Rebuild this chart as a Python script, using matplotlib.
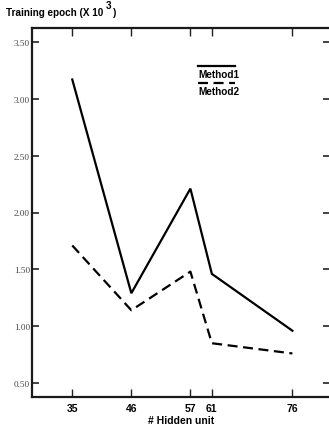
import matplotlib
matplotlib.use("Agg")
import matplotlib.pyplot as plt
from matplotlib.lines import Line2D

hidden_units = [35, 46, 57, 61, 76]
method1 = [3.17, 1.29, 2.21, 1.46, 0.96]
method2 = [1.71, 1.14, 1.48, 0.85, 0.76]
y_ticks = [0.50, 1.00, 1.50, 2.00, 2.50, 3.00, 3.50]
series_names = ["Method1", "Method2"]

sans = ["Liberation Sans Narrow", "Liberation Sans", "DejaVu Sans"]
serif = ["Liberation Serif", "DejaVu Serif"]

fig = plt.figure(figsize=(3.29, 4.31), dpi=100)
ax = fig.add_axes([32 / 329, 33 / 431, 298 / 329, 369 / 431])

ax.plot(hidden_units, method1, color="black", lw=1.6, solid_joinstyle="miter")
ax.plot(hidden_units, method2, color="black", lw=1.6, dashes=(4.5, 2.5))

ax.set_xlim(27.5, 83.0)
ax.set_ylim(0.377, 3.623)

ax.set_xticks(hidden_units)
ax.set_xticklabels([str(v) for v in hidden_units], fontfamily=sans,
                   fontweight="bold", fontsize=7.5)
ax.set_yticks(y_ticks)
ax.set_yticklabels([f"{v:.2f}" for v in y_ticks], fontfamily=serif,
                   fontsize=6.6, color="#444444")

ax.tick_params(axis="x", which="both", direction="in", length=6, width=1.0,
               top=True, bottom=True, pad=4, color="#222222")
ax.tick_params(axis="y", which="both", direction="in", length=5, width=1.2,
               left=True, right=True, pad=1.5, color="#222222")

for side in ["left", "bottom", "top"]:
    ax.spines[side].set_linewidth(1.6)
    ax.spines[side].set_color("#1a1a1a")
ax.spines["right"].set_visible(False)

ax.set_xlabel("# Hidden unit", fontfamily=sans, fontweight="bold",
              fontsize=7.5, labelpad=2)

# legend: line sample above each label
leg_x0, leg_x1 = 0.558, 0.682
ax.add_line(Line2D([leg_x0, leg_x1], [0.898, 0.898], transform=ax.transAxes,
                   color="black", lw=1.6))
ax.add_line(Line2D([leg_x0, leg_x1], [0.851, 0.851], transform=ax.transAxes,
                   color="black", lw=1.6, dashes=(4.5, 2.5)))
ax.text(leg_x0, 0.875, series_names[0], transform=ax.transAxes, ha="left",
        va="center", fontfamily=sans, fontweight="bold", fontsize=7.2)
ax.text(leg_x0, 0.828, series_names[1], transform=ax.transAxes, ha="left",
        va="center", fontfamily=sans, fontweight="bold", fontsize=7.2)

# y axis title with superscript exponent
t = fig.text(6 / 329, 1 - 16 / 431, "Training epoch (X 10", ha="left",
             va="baseline", fontfamily=sans, fontweight="bold", fontsize=7.1)
fig.canvas.draw()
bb = t.get_window_extent().transformed(fig.transFigure.inverted())
sup = fig.text(bb.x1 + 0.007, 1 - 9 / 431, "3", ha="left", va="baseline",
               fontfamily=sans, fontweight="bold", fontsize=7.1)
fig.canvas.draw()
bb2 = sup.get_window_extent().transformed(fig.transFigure.inverted())
fig.text(bb2.x1 + 0.007, 1 - 16 / 431, ")", ha="left", va="baseline",
         fontfamily=sans, fontweight="bold", fontsize=7.1)

fig.savefig("out.png", dpi=100)
